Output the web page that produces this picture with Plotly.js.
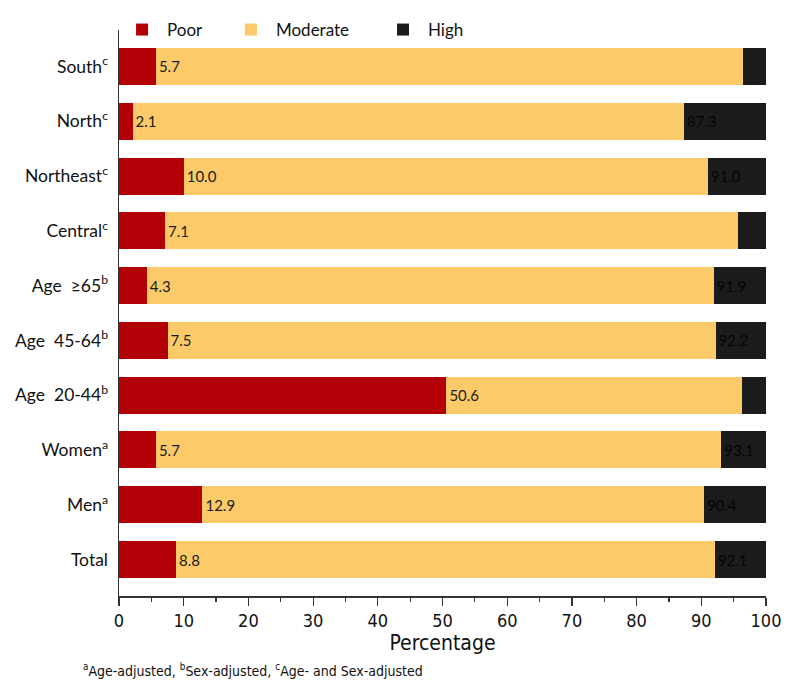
<!DOCTYPE html>
<html>
<head>
<meta charset="utf-8">
<script src="https://cdn.plot.ly/plotly-3.0.1.min.js"></script>
<style>html,body{margin:0;padding:0;background:#fff;}#chart{width:800px;height:700px;}</style>
</head>
<body>
<div id="chart"></div>
<script>
// Categories, top to bottom
var categories = ["South<sup>c</sup>", "North<sup>c</sup>", "Northeast<sup>c</sup>", "Central<sup>c</sup>",
  "Age  \u226565<sup>b</sup>", "Age  45-64<sup>b</sup>", "Age  20-44<sup>b</sup>",
  "Women<sup>a</sup>", "Men<sup>a</sup>", "Total"];
// Poor percentage
var poor = [5.7, 2.1, 10.0, 7.1, 4.3, 7.5, 50.6, 5.7, 12.9, 8.8];
// Cumulative Poor + Moderate (start of High)
var cumulative = [96.5, 87.3, 91.0, 95.6, 91.9, 92.2, 96.3, 93.1, 90.4, 92.1];
var total = 100;

var moderate = poor.map(function(p, i){ return +(cumulative[i] - p).toFixed(1); });
var high = cumulative.map(function(c){ return +(total - c).toFixed(1); });

var font = "Lato, 'Noto Sans', sans-serif";
var condFont = "'DejaVu Sans Condensed', 'Liberation Sans Narrow', Lato, sans-serif";

var traces = [
  {type:'bar', orientation:'h', name:'Poor', y:categories, x:poor,
   marker:{color:'#B20006'}, hoverinfo:'none', legend:'legend'},
  {type:'bar', orientation:'h', name:'Moderate', y:categories, x:moderate,
   marker:{color:'#FDCA6A'}, hoverinfo:'none', legend:'legend2',
   text: poor.map(function(v){return v.toFixed(1);}), textposition:'inside', insidetextanchor:'start', textangle:0,
   textfont:{color:'#1a1a1a', size:15, family:font}},
  {type:'bar', orientation:'h', name:'High', y:categories, x:high,
   marker:{color:'#1C1C1C'}, hoverinfo:'none', legend:'legend3',
   text: cumulative.map(function(v){return v.toFixed(1);}), textposition:'inside', insidetextanchor:'start', textangle:0,
   textfont:{color:'#050505', size:15, family:font}}
];

var legendBase = {orientation:'h', yanchor:'middle', y:1.0, xanchor:'left', itemwidth:40,
  font:{family:font, size:17, color:'#111'}, bgcolor:'rgba(0,0,0,0)'};
var layout = {
  width:800, height:700,
  margin:{l:119, r:34, t:30, b:104},
  barmode:'stack', bargap:0.325,
  paper_bgcolor:'#fff', plot_bgcolor:'#fff',
  font:{family:font, color:'#111'},
  uniformtext:{mode:'hide', minsize:15},
  showlegend:true,
  legend: Object.assign({}, legendBase, {x:-0.003}),
  legend2: Object.assign({}, legendBase, {x:0.1653}),
  legend3: Object.assign({}, legendBase, {x:0.4003}),
  xaxis:{range:[0,100], dtick:10, tick0:0, ticks:'outside', ticklen:8, tickwidth:1.2, tickcolor:'#333',
    showgrid:false, zeroline:false, showline:true, linecolor:'#333', linewidth:1.5,
    tickfont:{family:condFont, size:18, color:'#111'},
    minor:{dtick:5, ticks:'outside', ticklen:4, tickcolor:'#333', showgrid:false},
    title:{text:'Percentage', font:{family:condFont, size:21, color:'#111'}, standoff:2},
    fixedrange:true},
  yaxis:{type:'category', range:[9.666, -0.666], showgrid:false, zeroline:false, showline:true,
    linecolor:'#333', linewidth:1.5, ticks:'', ticklabelstandoff:6,
    tickfont:{family:font, size:17.5, color:'#111'}, fixedrange:true},
  annotations:[{xref:'paper', yref:'paper', x:-0.059, y:-0.131, xanchor:'left', yanchor:'middle', showarrow:false,
    text:'<sup>a</sup>Age-adjusted, <sup>b</sup>Sex-adjusted, <sup>c</sup>Age- and Sex-adjusted',
    font:{family:condFont, size:14, color:'#111'}}]
};
Plotly.newPlot('chart', traces, layout, {displayModeBar:false, staticPlot:true});
</script>
</body>
</html>
